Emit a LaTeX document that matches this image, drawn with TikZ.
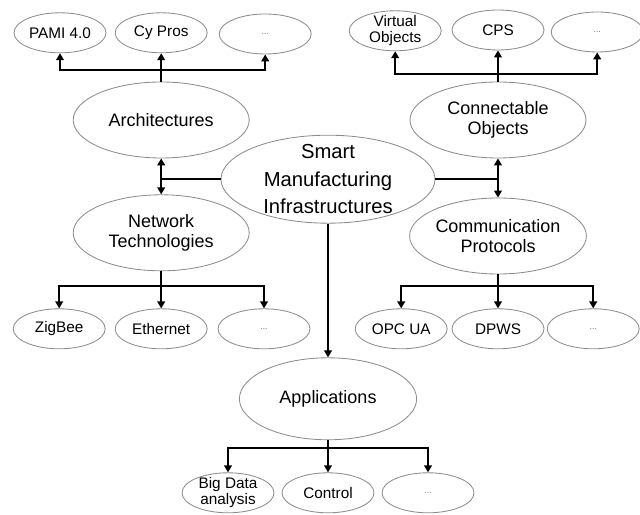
\documentclass[tikz,border=0pt]{standalone}
\usepackage{fontspec}
\setmainfont{Liberation Sans}
\usetikzlibrary{shapes.geometric,arrows.meta}

\begin{document}
\begin{tikzpicture}[
    hub/.style={ellipse, draw=black!45, line width=0.6pt, inner xsep=0pt,
      inner ysep=-5pt, align=center, minimum width=5.35cm,
      minimum height=2.2cm, font=\fontsize{14.4}{19.8}\selectfont},
    topic/.style={ellipse, draw=black!45, line width=0.6pt, inner sep=0pt,
      align=center, minimum width=4.4cm, minimum height=1.9cm,
      font=\fontsize{12.8}{14.5}\selectfont},
    leaf/.style={ellipse, draw=black!45, line width=0.6pt, inner xsep=0pt,
      inner ysep=-1pt, align=center, minimum width=2.3cm,
      minimum height=1.0cm, font=\fontsize{10.9}{11.5}\selectfont},
    more/.style={leaf, font=\fontsize{6}{7}\selectfont, text=black!60},
    link/.style={line width=1.4pt},
    arr/.style={link, -{Triangle[width=5.5pt,length=5pt]}},
    arrs/.style={link, {Triangle[width=5.5pt,length=5pt]}-{Triangle[width=5.5pt,length=5pt]}}]
  \useasboundingbox (0,0) rectangle (16,12.85);

  % centre
  \node[hub] (smi) at (8.2,8.37) {Smart\\Manufacturing\\Infrastructures};

  % left branch
  \node[topic] (arch) at (4.03,9.85) {Architectures};
  \node[topic] (net) at (4.03,7.03) {Network\\Technologies};
  \node[leaf] (pami) at (1.5,12.03) {PAMI 4.0};
  \node[leaf] (cypros) at (4.03,12.03) {Cy Pros};
  \node[more] (archmore) at (6.63,12.0) {...};
  \node[leaf] (zigbee) at (1.48,4.63) {ZigBee};
  \node[leaf] (ethernet) at (4.03,4.63) {Ethernet};
  \node[more] (netmore) at (6.6,4.63) {...};

  % right branch
  \node[topic] (conn) at (12.45,9.85) {Connectable\\Objects};
  \node[topic] (comm) at (12.45,6.95) {Communication\\Protocols};
  \node[leaf] (virtual) at (9.88,12.08) {Virtual\\Objects};
  \node[leaf] (cps) at (12.45,12.1) {CPS};
  \node[more] (connmore) at (14.93,12.05) {...};
  \node[leaf] (opcua) at (10.03,4.63) {OPC UA};
  \node[leaf] (dpws) at (12.45,4.63) {DPWS};
  \node[more] (commmore) at (14.83,4.63) {...};

  % bottom branch
  \node[topic, minimum width=4.43cm, minimum height=2.05cm] (app) at (8.2,2.88) {Applications};
  \node[leaf] (bigdata) at (5.7,0.53) {Big Data\\analysis};
  \node[leaf] (control) at (8.2,0.53) {Control};
  \node[more] (appmore) at (10.7,0.53) {...};

  % links from the centre
  \draw[arrs] (arch.south) -- (net.north);
  \draw[link] (smi.west) -- (smi.west -| arch.south);
  \draw[arrs] (conn.south) -- (comm.north);
  \draw[link] (smi.east) -- (smi.east -| conn.south);
  \draw[arr] (smi.south) -- (app.north);

  % trees
  \foreach \leafnode in {pami,cypros,archmore}
    \draw[arr] (arch.north) -- ++(0,0.28) -| (\leafnode.south);
  \foreach \leafnode in {virtual,cps,connmore}
    \draw[arr] (conn.north) -- ++(0,0.2) -| (\leafnode.south);
  \foreach \leafnode in {zigbee,ethernet,netmore}
    \draw[arr] (net.south) -- ++(0,-0.38) -| (\leafnode.north);
  \foreach \leafnode in {opcua,dpws,commmore}
    \draw[arr] (comm.south) -- ++(0,-0.3) -| (\leafnode.north);
  \foreach \leafnode in {bigdata,control,appmore}
    \draw[arr] (app.south) -- ++(0,-0.2) -| (\leafnode.north);
\end{tikzpicture}
\end{document}
